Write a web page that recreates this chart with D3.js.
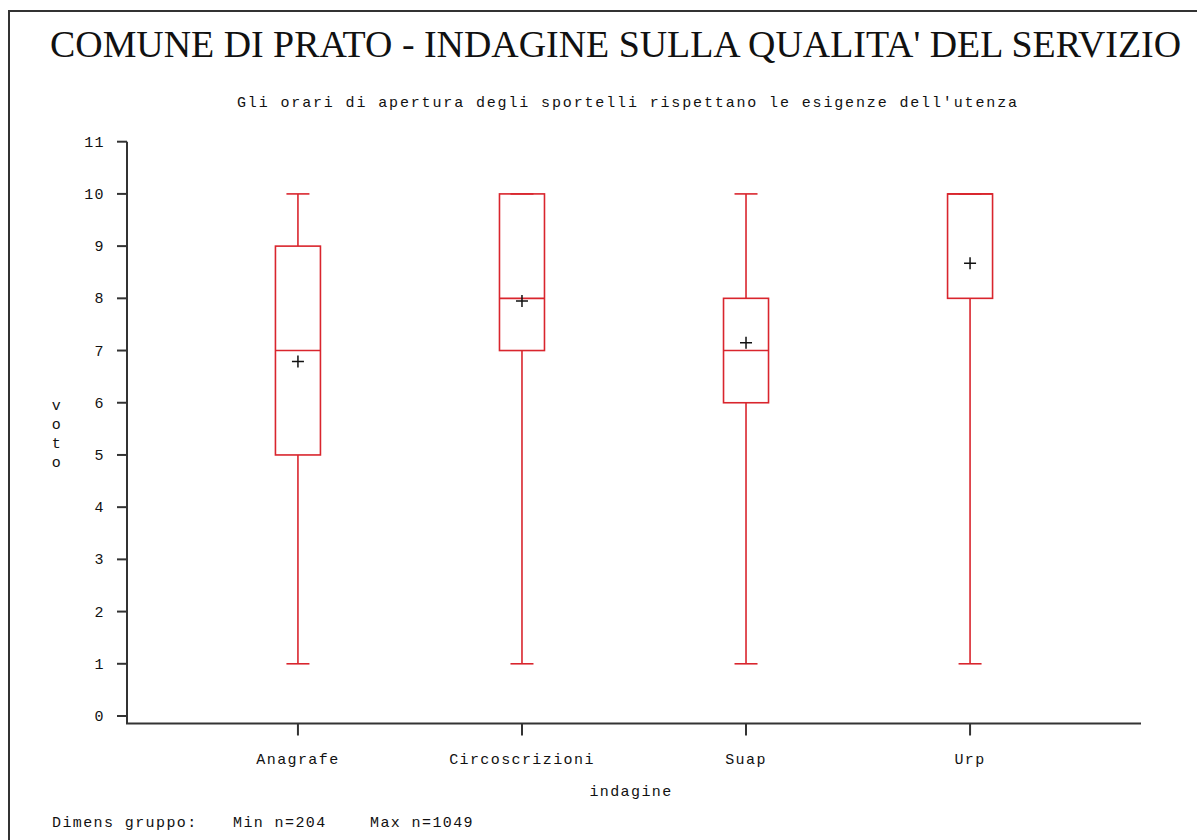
<!DOCTYPE html>
<html>
<head>
<meta charset="utf-8">
<script src="https://cdn.jsdelivr.net/npm/d3@7"></script>
<style>
  body { margin: 0; background: #fff; }
  text { fill: #111; }
  .mono { font-family: "Liberation Mono", "DejaVu Sans Mono", monospace; font-size: 15px; letter-spacing: 1.4px; }
</style>
</head>
<body>
<svg width="1197" height="840"></svg>
<script>
// dati
var categorie = ["Anagrafe", "Circoscrizioni", "Suap", "Urp"];
var minimi   = [1, 1, 1, 1];
var q1       = [5, 7, 6, 8];
var mediane  = [7, 8, 7, 10];
var q3       = [9, 10, 8, 10];
var massimi  = [10, 10, 10, 10];
var medie    = [6.79, 7.95, 7.15, 8.67];
var yTicks   = [0, 1, 2, 3, 4, 5, 6, 7, 8, 9, 10, 11];

var svg = d3.select("svg"),
    rosso = "#d9252d";

// cornice
svg.append("rect")
  .attr("x", 9).attr("y", 11)
  .attr("width", 1197).attr("height", 900)
  .attr("fill", "none").attr("stroke", "#333").attr("stroke-width", 2);

var x = d3.scalePoint().domain(categorie).range([127, 1141]).padding(0.763),
    y = d3.scaleLinear().domain([0, 11]).range([716, 141.7]);

// titoli
svg.append("text")
  .attr("x", 50).attr("y", 57)
  .attr("textLength", 1131).attr("lengthAdjust", "spacingAndGlyphs")
  .style("font-family", "'Liberation Serif', 'Times New Roman', serif")
  .style("font-size", "38px")
  .text("COMUNE DI PRATO - INDAGINE SULLA QUALITA' DEL SERVIZIO");

svg.append("text")
  .attr("class", "mono")
  .attr("x", 237).attr("y", 107)
  .attr("textLength", 780).attr("lengthAdjust", "spacing")
  .style("letter-spacing", "0px")
  .text("Gli orari di apertura degli sportelli rispettano le esigenze dell'utenza");

// asse Y
var yAxis = svg.append("g").attr("transform", "translate(127,0)");
yAxis.append("line")
  .attr("x1", 0).attr("x2", 0)
  .attr("y1", y(11)).attr("y2", 723.5)
  .attr("stroke", "#333").attr("stroke-width", 2);
yAxis.selectAll(".tick").data(yTicks).enter().append("line")
  .attr("x1", -10).attr("x2", 0)
  .attr("y1", function(d) { return y(d); }).attr("y2", function(d) { return y(d); })
  .attr("stroke", "#333").attr("stroke-width", 2);
yAxis.selectAll(".lab").data(yTicks).enter().append("text")
  .attr("class", "mono")
  .attr("x", -22).attr("y", function(d) { return y(d) + 5; })
  .attr("text-anchor", "end")
  .text(function(d) { return d; });

// etichetta verticale "voto"
svg.append("g").selectAll("text").data("voto".split("")).enter().append("text")
  .attr("class", "mono")
  .attr("x", 57).attr("y", function(d, i) { return 410 + i * 19; })
  .attr("text-anchor", "middle")
  .text(function(d) { return d; });

// asse X
var xAxis = svg.append("g").attr("transform", "translate(0,723.5)");
xAxis.append("line")
  .attr("x1", 126).attr("x2", 1141)
  .attr("stroke", "#333").attr("stroke-width", 2);
xAxis.selectAll(".tick").data(categorie).enter().append("line")
  .attr("x1", function(d) { return x(d); }).attr("x2", function(d) { return x(d); })
  .attr("y1", 0).attr("y2", 12)
  .attr("stroke", "#333").attr("stroke-width", 2);
xAxis.selectAll(".lab").data(categorie).enter().append("text")
  .attr("class", "mono")
  .attr("x", function(d) { return x(d); }).attr("y", 40)
  .attr("text-anchor", "middle")
  .text(function(d) { return d; });

svg.append("text")
  .attr("class", "mono")
  .attr("x", 631).attr("y", 796)
  .attr("text-anchor", "middle")
  .text("indagine");

// box plot
var bw = 45, cap = 23;
var boxes = svg.append("g").selectAll("g").data(categorie).enter().append("g");

boxes.each(function(d, i) {
  var g = d3.select(this), cx = x(d);
  // baffi
  g.append("line").attr("x1", cx).attr("x2", cx).attr("y1", y(q3[i])).attr("y2", y(massimi[i]));
  g.append("line").attr("x1", cx).attr("x2", cx).attr("y1", y(q1[i])).attr("y2", y(minimi[i]));
  g.append("line").attr("x1", cx - cap / 2).attr("x2", cx + cap / 2).attr("y1", y(massimi[i])).attr("y2", y(massimi[i]));
  g.append("line").attr("x1", cx - cap / 2).attr("x2", cx + cap / 2).attr("y1", y(minimi[i])).attr("y2", y(minimi[i]));
  g.selectAll("line").attr("stroke", rosso).attr("stroke-width", 1.6);
  // scatola
  g.append("rect")
    .attr("x", cx - bw / 2).attr("y", y(q3[i]))
    .attr("width", bw).attr("height", y(q1[i]) - y(q3[i]))
    .attr("fill", "none").attr("stroke", rosso).attr("stroke-width", 1.6);
  g.append("line")
    .attr("x1", cx - bw / 2).attr("x2", cx + bw / 2)
    .attr("y1", y(mediane[i])).attr("y2", y(mediane[i]))
    .attr("stroke", rosso).attr("stroke-width", 1.6);
  // media
  g.append("path")
    .attr("d", "M" + (cx - 6) + "," + y(medie[i]) + "H" + (cx + 6) +
               "M" + cx + "," + (y(medie[i]) - 6) + "V" + (y(medie[i]) + 6))
    .attr("stroke", "#111").attr("stroke-width", 1.5);
});

// piede
var piede = svg.append("g").attr("class", "mono");
piede.append("text").attr("class", "mono").attr("x", 52).attr("y", 827).text("Dimens gruppo:");
piede.append("text").attr("class", "mono").attr("x", 233).attr("y", 827).text("Min n=204");
piede.append("text").attr("class", "mono").attr("x", 370).attr("y", 827).text("Max n=1049");
</script>
</body>
</html>
